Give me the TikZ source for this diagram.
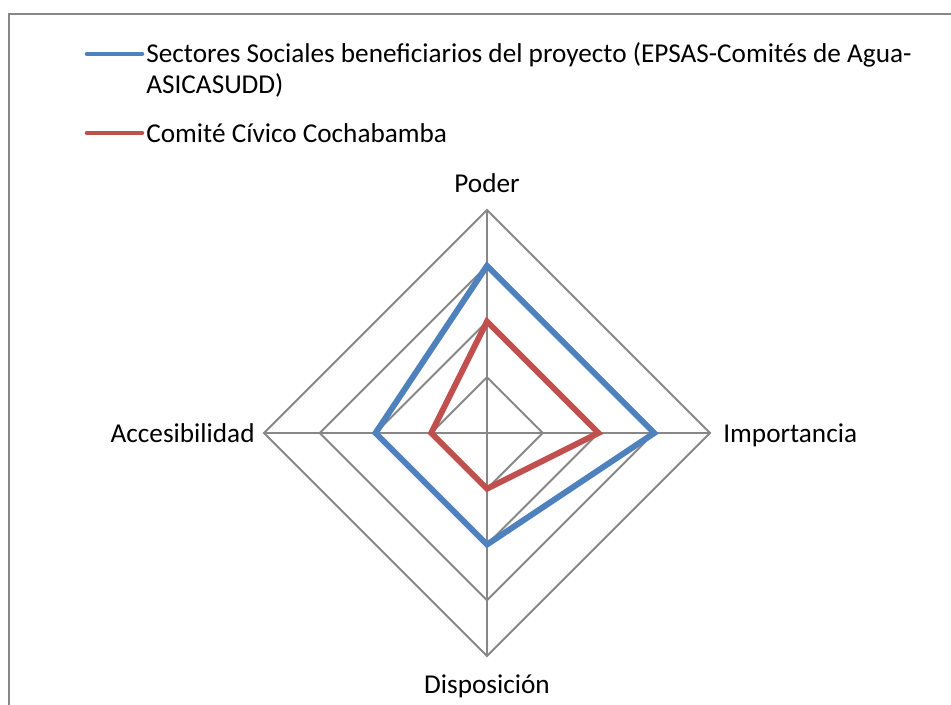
\documentclass[tikz,border=0pt]{standalone}
\usepackage{fontspec}
\setmainfont{Carlito}
\usetikzlibrary{positioning}
\definecolor{serieblue}{HTML}{4F81BD}
\definecolor{seriered}{HTML}{C0504D}
\definecolor{gridgray}{HTML}{878787}
\tikzset{
  % Specifications for style of lines and texts:
  gridline/.style = {
    draw=gridgray,
    line width=1.1pt
  },
  serie/.style = {
    line width=3.4pt
  },
  legline/.style = {
    line width=2.6pt,
    line cap=round
  },
  legtext/.style = {
    inner sep=0pt,
    align=left,
    font=\fontsize{15.5}{17.6}\selectfont
  },
  axislabel/.style = {
    inner sep=0pt,
    font=\fontsize{15.5}{17.6}\selectfont
  },
}
\begin{document}
\begin{tikzpicture}[x=0.02cm, y=-0.02cm]
    \useasboundingbox (0,0) rectangle (951,704);
    % Frame of the chart area
    \draw[gridline, line width=1.4pt] (9,720) -- (9,14) -- (970,14);
    % Legend
    \coordinate (legblueA) at (87,54);
    \coordinate (legblueB) at (142,54);
    \coordinate (legredA)  at (87,133);
    \coordinate (legredB)  at (142,133);
    \draw[legline, serieblue] (legblueA) -- (legblueB);
    \draw[legline, seriered]  (legredA) -- (legredB);
    \node[legtext, anchor=base west] (legblue) at (146,93)
      {Sectores Sociales beneficiarios del proyecto (EPSAS-Comités de Agua-\\ASICASUDD)};
    \node[legtext, anchor=base west] (legred) at (146,142) {Comité Cívico Cochabamba};
    % Axes and rings of the radar
    \coordinate (centre)        at (487,433);
    \coordinate (poder)         at (487,210);
    \coordinate (importancia)   at (710,433);
    \coordinate (disposicion)   at (487,656);
    \coordinate (accesibilidad) at (264,433);
    \foreach \r in {1,...,4}
      \draw[gridline] (487,{433-\r*55.75}) -- ({487+\r*55.75},433) -- (487,{433+\r*55.75})
        -- ({487-\r*55.75},433) -- cycle;
    \draw[gridline] (poder) -- (disposicion);
    \draw[gridline] (accesibilidad) -- (importancia);
    % Series
    \draw[serie, serieblue] (487,{433-3*55.75}) -- ({487+3*55.75},433) -- (487,{433+2*55.75})
      -- ({487-2*55.75},433) -- cycle;
    \draw[serie, seriered] (487,{433-2*55.75}) -- ({487+2*55.75},433) -- (487,{433+1*55.75})
      -- ({487-1*55.75},433) -- cycle;
    % Axis labels
    \node[axislabel, anchor=base]      (lpoder) at (487,192) {Poder};
    \node[axislabel, anchor=base west] (limportancia) at (723,442) {Importancia};
    \node[axislabel, anchor=base]      (ldisposicion) at (487,693) {Disposición};
    \node[axislabel, anchor=base east] (laccesibilidad) at (255,442) {Accesibilidad};
\end{tikzpicture}
\end{document}
